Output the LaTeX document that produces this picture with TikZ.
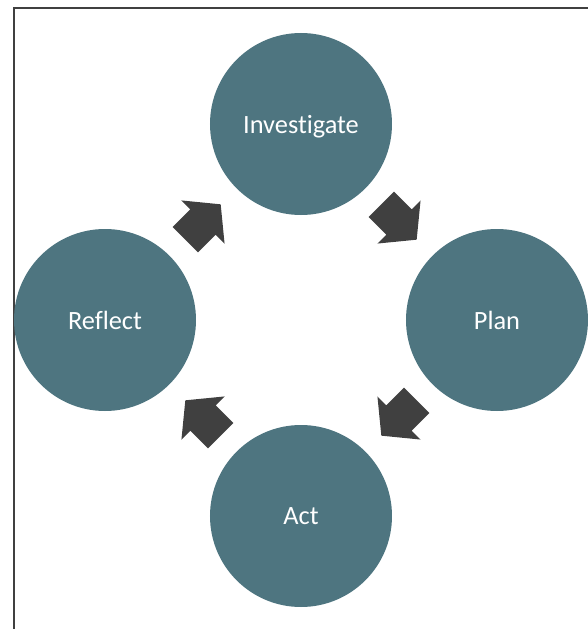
\documentclass[tikz,border=0pt]{standalone}
\usepackage{fontspec}
\setmainfont[Ligatures=NoCommon]{Carlito}
\usetikzlibrary{calc}

\definecolor{stagefill}{RGB}{78,117,128}
\definecolor{arrowgray}{RGB}{64,64,64}

\tikzset{
	stage/.style={circle, fill=stagefill, text=white, minimum size=3.64cm, inner sep=0pt, text depth=0pt, font=\fontsize{15}{18}\selectfont},
	bigarrow/.style={fill=arrowgray}
}

% block arrow, pointing along +x, centred on the origin
\newcommand{\cyclearrow}{(-0.5,-0.36) -- (0,-0.36) -- (0,-0.61) -- (0.5,0) -- (0,0.61) -- (0,0.36) -- (-0.5,0.36) -- cycle}

\begin{document}
\begin{tikzpicture}

		\useasboundingbox (-6.02,-6.18) rectangle (5.74,6.4);
		
		% cadre
		\draw[arrowgray, line width=1.1pt] (-5.74,-6.18) -- (-5.74,6.24) -- (5.74,6.24);
		
		% cercles
		\node[stage] (investigate) at (0,3.92) {Investigate};
		\node[stage] (plan) at (3.92,0) {Plan};
		\node[stage] (act) at (0,-3.92) {Act};
		\node[stage] (reflect) at (-3.92,0) {Reflect};
		
		% fleches
		\fill[bigarrow, shift={($(investigate)!0.5!(plan)$)}, rotate=-45] \cyclearrow;
		\fill[bigarrow, shift={($(plan)!0.5!(act)$)}, rotate=-135] \cyclearrow;
		\fill[bigarrow, shift={($(act)!0.5!(reflect)$)}, rotate=135] \cyclearrow;
		\fill[bigarrow, shift={($(reflect)!0.5!(investigate)$)}, rotate=45] \cyclearrow;
		
	\end{tikzpicture}
\end{document}
